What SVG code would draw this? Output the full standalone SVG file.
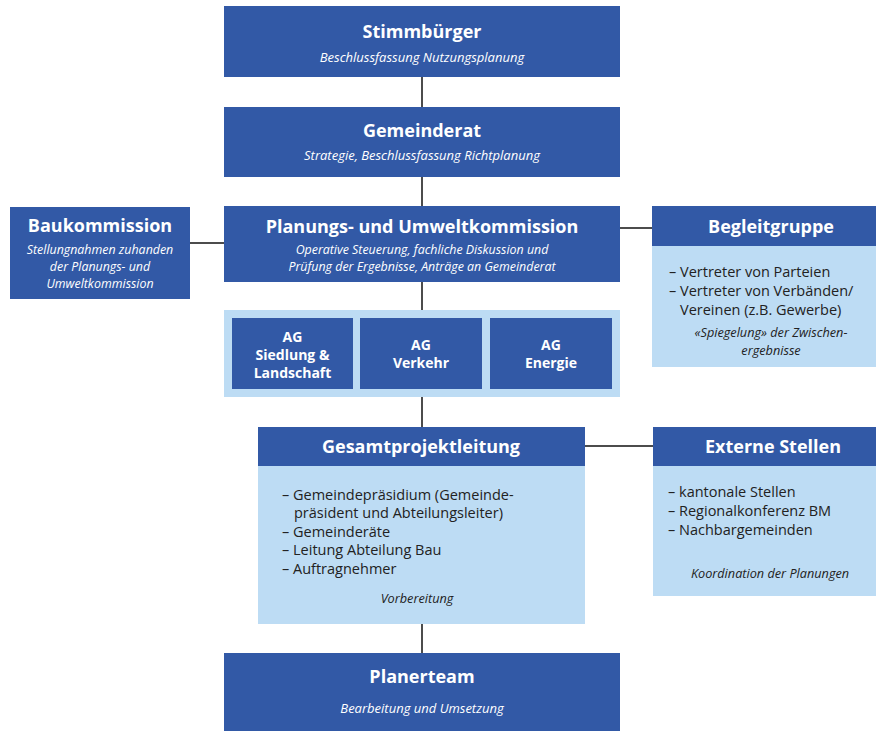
<svg xmlns="http://www.w3.org/2000/svg" width="876" height="731" viewBox="0 0 876 731">
<style>
.dk{fill:#3259a6}
.lt{fill:#bddcf4}
.t{font-family:"Open Sans","Liberation Sans",sans-serif;font-weight:700;font-size:18px;fill:#fff;text-anchor:middle}
.ag{font-family:"Open Sans","Liberation Sans",sans-serif;font-weight:700;font-size:14px;fill:#fff;text-anchor:middle}
.s{font-family:"Open Sans","Liberation Sans",sans-serif;font-style:italic;font-size:13px;fill:#fff;text-anchor:middle}
.s2{font-family:"Open Sans","Liberation Sans",sans-serif;font-style:italic;font-size:12.4px;fill:#fff;text-anchor:middle}
.b{font-family:"Open Sans","Liberation Sans",sans-serif;font-size:14.5px;fill:#222}
.i{font-family:"Open Sans","Liberation Sans",sans-serif;font-style:italic;font-size:12.7px;fill:#222;text-anchor:middle}
.c{stroke:#111;stroke-width:1.5;fill:none}
</style>
<g id="connectors">
<line class="c" x1="422" y1="77" x2="422" y2="107"/>
<line class="c" x1="422" y1="177" x2="422" y2="206"/>
<line class="c" x1="422" y1="282" x2="422" y2="310"/>
<line class="c" x1="422" y1="397" x2="422" y2="427"/>
<line class="c" x1="422" y1="624" x2="422" y2="653"/>
<line class="c" x1="190" y1="243" x2="224" y2="243"/>
<line class="c" x1="620" y1="228" x2="652" y2="228"/>
<line class="c" x1="585" y1="446" x2="653" y2="446"/>
</g>
<g id="stimmbuerger">
<rect class="dk" x="224" y="6" width="396" height="71"/>
<text class="t" x="422" y="38">Stimmbürger</text>
<text class="s" x="422" y="62">Beschlussfassung Nutzungsplanung</text>
</g>
<g id="gemeinderat">
<rect class="dk" x="224" y="107" width="396" height="70"/>
<text class="t" x="422" y="137">Gemeinderat</text>
<text class="s" x="422" y="160">Strategie, Beschlussfassung Richtplanung</text>
</g>
<g id="planungskommission">
<rect class="dk" x="224" y="206" width="396" height="76"/>
<text class="t" x="422" y="233">Planungs- und Umweltkommission</text>
<text class="s2" x="422" y="254">Operative Steuerung, fachliche Diskussion und</text>
<text class="s2" x="422" y="271">Prüfung der Ergebnisse, Anträge an Gemeinderat</text>
</g>
<g id="baukommission">
<rect class="dk" x="10" y="207" width="180" height="92"/>
<text class="t" x="100" y="232">Baukommission</text>
<text class="s2" x="100" y="254">Stellungnahmen zuhanden</text>
<text class="s2" x="100" y="271">der Planungs- und</text>
<text class="s2" x="100" y="288">Umweltkommission</text>
</g>
<g id="begleitgruppe">
<rect class="lt" x="652" y="206" width="224" height="161"/>
<rect class="dk" x="652" y="206" width="224" height="40"/>
<text class="t" x="771" y="233">Begleitgruppe</text>
<text class="b" x="669" y="277">– Vertreter von Parteien</text>
<text class="b" x="669" y="296">– Vertreter von Verbänden/</text>
<text class="b" x="680" y="315">Vereinen (z.B. Gewerbe)</text>
<text class="i" x="771" y="337">«Spiegelung» der Zwischen-</text>
<text class="i" x="771" y="355">ergebnisse</text>
</g>
<g id="ag-gruppe">
<rect class="lt" x="224" y="310" width="396" height="87"/>
</g>
<g id="ag-siedlung">
<rect class="dk" x="232" y="318" width="121" height="71"/>
<text class="ag" x="292.500" y="342">AG</text>
<text class="ag" x="292.500" y="360">Siedlung &amp;</text>
<text class="ag" x="292.500" y="378">Landschaft</text>
</g>
<g id="ag-verkehr">
<rect class="dk" x="360" y="318" width="122" height="71"/>
<text class="ag" x="421" y="350">AG</text>
<text class="ag" x="421" y="368">Verkehr</text>
</g>
<g id="ag-energie">
<rect class="dk" x="490" y="318" width="122" height="71"/>
<text class="ag" x="551" y="350">AG</text>
<text class="ag" x="551" y="368">Energie</text>
</g>
<g id="gesamtprojektleitung">
<rect class="lt" x="258" y="427" width="327" height="197"/>
<rect class="dk" x="258" y="427" width="327" height="39"/>
<text class="t" x="421" y="453">Gesamtprojektleitung</text>
<text class="b" x="282" y="500">– Gemeindepräsidium (Gemeinde-</text>
<text class="b" x="294" y="518">präsident und Abteilungsleiter)</text>
<text class="b" x="282" y="537">– Gemeinderäte</text>
<text class="b" x="282" y="555">– Leitung Abteilung Bau</text>
<text class="b" x="282" y="574">– Auftragnehmer</text>
<text class="i" x="417" y="603">Vorbereitung</text>
</g>
<g id="externe-stellen">
<rect class="lt" x="653" y="427" width="223" height="169"/>
<rect class="dk" x="653" y="427" width="223" height="39"/>
<text class="t" x="773" y="453">Externe Stellen</text>
<text class="b" x="668" y="497">– kantonale Stellen</text>
<text class="b" x="668" y="516">– Regionalkonferenz BM</text>
<text class="b" x="668" y="535">– Nachbargemeinden</text>
<text class="i" x="770" y="578">Koordination der Planungen</text>
</g>
<g id="planerteam">
<rect class="dk" x="224" y="653" width="396" height="78"/>
<text class="t" x="422" y="683">Planerteam</text>
<text class="s" x="422" y="713">Bearbeitung und Umsetzung</text>
</g>
</svg>
